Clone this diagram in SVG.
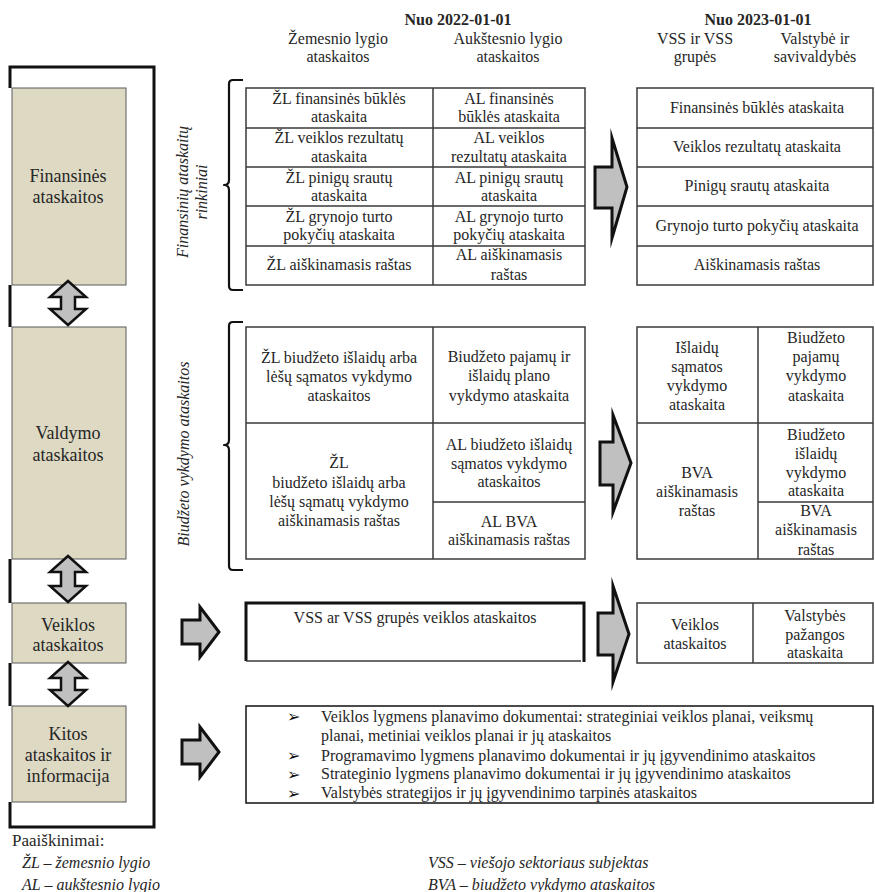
<svg xmlns="http://www.w3.org/2000/svg" width="875" height="892" viewBox="0 0 875 892" font-family="'Liberation Serif', 'Times New Roman', serif">
<style>
text{font-family:"Liberation Serif","Times New Roman",serif;font-size:16px;fill:#262626;text-anchor:middle}
.b{font-weight:bold}
.i{font-style:italic}
.l{text-anchor:start}
.big{font-size:18px}
.cell{fill:#fff;stroke:#3a3a3a;stroke-width:1.5}
.ln{stroke:#3a3a3a;stroke-width:1.5;fill:none}
.beige{fill:#ddd9c3;stroke:#5a5a5a;stroke-width:1}
.frame{stroke:#111;stroke-width:3;fill:none}
.brace{stroke:#111;stroke-width:2.2;fill:none;stroke-linejoin:round}
.arr{fill:#c0c0c0;stroke:#111;stroke-width:3;stroke-linejoin:miter;stroke-miterlimit:10}
.dbl{fill:#c0c0c0;stroke:#111;stroke-width:2.5;stroke-linejoin:miter;stroke-miterlimit:10}
.bul{font-family:"DejaVu Sans",sans-serif;font-size:16px;font-weight:bold;text-anchor:start;fill:#111}
</style>

<!-- Header -->
<g id="header">
<text class="b" x="458" y="25">Nuo 2022-01-01</text>
<text x="338" y="44">Žemesnio lygio</text>
<text x="338" y="62">ataskaitos</text>
<text x="508" y="44">Aukštesnio lygio</text>
<text x="508" y="62">ataskaitos</text>
<text class="b" x="758" y="25">Nuo 2023-01-01</text>
<text x="695" y="44">VSS ir VSS</text>
<text x="695" y="62">grupės</text>
<text x="815" y="44">Valstybė ir</text>
<text x="815" y="62">savivaldybės</text>
</g>

<!-- Left frame -->
<g id="left-frame">
<path class="frame" d="M10,88 V67 H154 V827 H10 V802"/>
<path class="frame" d="M10,285 V327 M10,559 V603 M10,663 V706"/>
</g>

<g id="node-finansines">
<rect class="beige" x="12" y="88" width="114" height="197"/>
<text class="big" x="68" y="182">Finansinės</text>
<text class="big" x="68" y="203">ataskaitos</text>
</g>
<g id="node-valdymo">
<rect class="beige" x="12" y="327" width="114" height="232"/>
<text class="big" x="68" y="439">Valdymo</text>
<text class="big" x="68" y="461">ataskaitos</text>
</g>
<g id="node-veiklos">
<rect class="beige" x="12" y="603" width="114" height="60"/>
<text class="big" x="68" y="631">Veiklos</text>
<text class="big" x="68" y="651">ataskaitos</text>
</g>
<g id="node-kitos">
<rect class="beige" x="12" y="706" width="114" height="96"/>
<text class="big" x="68" y="740">Kitos</text>
<text class="big" x="68" y="761">ataskaitos ir</text>
<text class="big" x="68" y="782">informacija</text>
</g>

<!-- Financial statements sets -->
<g id="label-finansiniu">
<text class="i" transform="translate(188,192) rotate(-90)">Finansinių ataskaitų</text>
<text class="i" transform="translate(207,192) rotate(-90)">rinkiniai</text>
<path class="brace" d="M243,80 H233 Q229,80 229,84 V180 Q229,185 224,185 Q229,185 229,190 V286 Q229,290 233,290 H243"/>
</g>

<g id="table-fin-2022">
<rect class="cell" x="246" y="88" width="339" height="197"/>
<path class="ln" d="M433,88 V285 M246,128 H585 M246,167 H585 M246,206 H585 M246,246 H585"/>
<text x="339" y="104">ŽL finansinės būklės</text>
<text x="339" y="122">ataskaita</text>
<text x="339" y="143">ŽL veiklos rezultatų</text>
<text x="339" y="162">ataskaita</text>
<text x="339" y="183">ŽL pinigų srautų</text>
<text x="339" y="201">ataskaita</text>
<text x="339" y="222">ŽL grynojo turto</text>
<text x="339" y="240">pokyčių ataskaita</text>
<text x="339" y="270">ŽL aiškinamasis raštas</text>
<text x="509" y="104">AL finansinės</text>
<text x="509" y="122">būklės ataskaita</text>
<text x="509" y="143">AL veiklos</text>
<text x="509" y="162">rezultatų ataskaita</text>
<text x="509" y="183">AL pinigų srautų</text>
<text x="509" y="201">ataskaita</text>
<text x="509" y="222">AL grynojo turto</text>
<text x="509" y="240">pokyčių ataskaita</text>
<text x="509" y="260">AL aiškinamasis</text>
<text x="509" y="280">raštas</text>
</g>

<g id="table-fin-2023">
<rect class="cell" x="637" y="88" width="236" height="197"/>
<path class="ln" d="M637,128 H873 M637,167 H873 M637,206 H873 M637,246 H873"/>
<text x="757" y="113">Finansinės būklės ataskaita</text>
<text x="757" y="152">Veiklos rezultatų ataskaita</text>
<text x="757" y="191">Pinigų srautų ataskaita</text>
<text x="757" y="231">Grynojo turto pokyčių ataskaita</text>
<text x="757" y="270">Aiškinamasis raštas</text>
</g>

<!-- Budget execution -->
<g id="label-biudzeto">
<text class="i" transform="translate(189,454) rotate(-90)">Biudžeto vykdymo ataskaitos</text>
<path class="brace" d="M243,322 H233 Q229,322 229,326 V440 Q229,445 224,445 Q229,445 229,450 V566 Q229,570 233,570 H243"/>
</g>

<g id="table-budget-2022">
<rect class="cell" x="246" y="327" width="339" height="232"/>
<path class="ln" d="M433,327 V559 M246,423 H585 M433,502 H585"/>
<text x="339" y="363">ŽL biudžeto išlaidų arba</text>
<text x="339" y="382">lėšų sąmatos vykdymo</text>
<text x="339" y="401">ataskaitos</text>
<text x="339" y="468">ŽL</text>
<text x="339" y="488">biudžeto išlaidų arba</text>
<text x="339" y="507">lėšų sąmatų vykdymo</text>
<text x="339" y="526">aiškinamasis raštas</text>
<text x="509" y="362">Biudžeto pajamų ir</text>
<text x="509" y="381">išlaidų plano</text>
<text x="509" y="401">vykdymo ataskaita</text>
<text x="509" y="450">AL biudžeto išlaidų</text>
<text x="509" y="469">sąmatos vykdymo</text>
<text x="509" y="487">ataskaitos</text>
<text x="509" y="527">AL BVA</text>
<text x="509" y="545">aiškinamasis raštas</text>
</g>

<g id="table-budget-2023">
<rect class="cell" x="637" y="327" width="236" height="232"/>
<path class="ln" d="M758,327 V559 M637,423 H873 M758,502 H873"/>
<text x="697" y="353">Išlaidų</text>
<text x="697" y="372">sąmatos</text>
<text x="697" y="391">vykdymo</text>
<text x="697" y="410">ataskaita</text>
<text x="697" y="478">BVA</text>
<text x="697" y="497">aiškinamasis</text>
<text x="697" y="516">raštas</text>
<text x="816" y="343">Biudžeto</text>
<text x="816" y="362">pajamų</text>
<text x="816" y="381">vykdymo</text>
<text x="816" y="401">ataskaita</text>
<text x="816" y="440">Biudžeto</text>
<text x="816" y="459">išlaidų</text>
<text x="816" y="478">vykdymo</text>
<text x="816" y="496">ataskaita</text>
<text x="816" y="516">BVA</text>
<text x="816" y="535">aiškinamasis</text>
<text x="816" y="555">raštas</text>
</g>

<!-- Activity reports -->
<g id="box-vss-veiklos">
<rect x="246" y="603" width="338" height="58" fill="#fff"/>
<path class="frame" d="M246,661 V603 H584 V662"/>
<path class="ln" d="M246,661 H581"/>
<text x="415" y="623">VSS ar VSS grupės veiklos ataskaitos</text>
</g>

<g id="table-veiklos-2023">
<rect class="cell" x="637" y="603" width="236" height="60"/>
<path class="ln" d="M753,603 V663"/>
<text x="695" y="630">Veiklos</text>
<text x="695" y="649">ataskaitos</text>
<text x="815" y="621">Valstybės</text>
<text x="815" y="640">pažangos</text>
<text x="815" y="658">ataskaita</text>
</g>

<!-- Other reports -->
<g id="box-kitos">
<rect class="cell" x="246" y="706" width="627" height="97" style="stroke:#111"/>
<text class="bul" x="287" y="722">➢</text>
<text class="bul" x="287" y="761">➢</text>
<text class="bul" x="287" y="780">➢</text>
<text class="bul" x="287" y="799">➢</text>
<text class="l" x="321" y="722">Veiklos lygmens planavimo dokumentai: strateginiai veiklos planai, veiksmų</text>
<text class="l" x="321" y="741">planai, metiniai veiklos planai ir jų ataskaitos</text>
<text class="l" x="321" y="761">Programavimo lygmens planavimo dokumentai ir jų įgyvendinimo ataskaitos</text>
<text class="l" x="321" y="779">Strateginio lygmens planavimo dokumentai ir jų įgyvendinimo ataskaitos</text>
<text class="l" x="321" y="798">Valstybės strategijos ir jų įgyvendinimo tarpinės ataskaitos</text>
</g>

<!-- Connectors -->
<g id="connectors">
<polygon class="dbl" points="68,281 86,297 75,297 75,309 86,309 68,325 50,309 61,309 61,297 50,297"/>
<polygon class="dbl" points="68,556 86,572 75,572 75,586 86,586 68,602 50,586 61,586 61,572 50,572"/>
<polygon class="dbl" points="68,662 86,678 75,678 75,690 86,690 68,706 50,690 61,690 61,678 50,678"/>
<polygon class="arr" points="595,167 612,167 612,138 627,187 612,238 612,208 595,208"/>
<polygon class="arr" points="600,442 613,442 613,415 631,463 613,512 613,485 600,485"/>
<polygon class="arr" points="598,613 613,613 613,586 629,634 613,682 613,655 598,655"/>
<polygon class="arr" points="182,620 200,620 200,607 219,632 200,657 200,644 182,644"/>
<polygon class="arr" points="182,740 200,740 200,727 219,752 200,777 200,764 182,764"/>
</g>

<!-- Legend -->
<g id="legend">
<text class="l" x="12" y="846" style="font-size:17px">Paaiškinimai:</text>
<text class="l i" x="22" y="868">ŽL – žemesnio lygio</text>
<text class="l i" x="22" y="890">AL – aukštesnio lygio</text>
<text class="l i" x="428" y="868">VSS – viešojo sektoriaus subjektas</text>
<text class="l i" x="428" y="890">BVA – biudžeto vykdymo ataskaitos</text>
</g>
</svg>
